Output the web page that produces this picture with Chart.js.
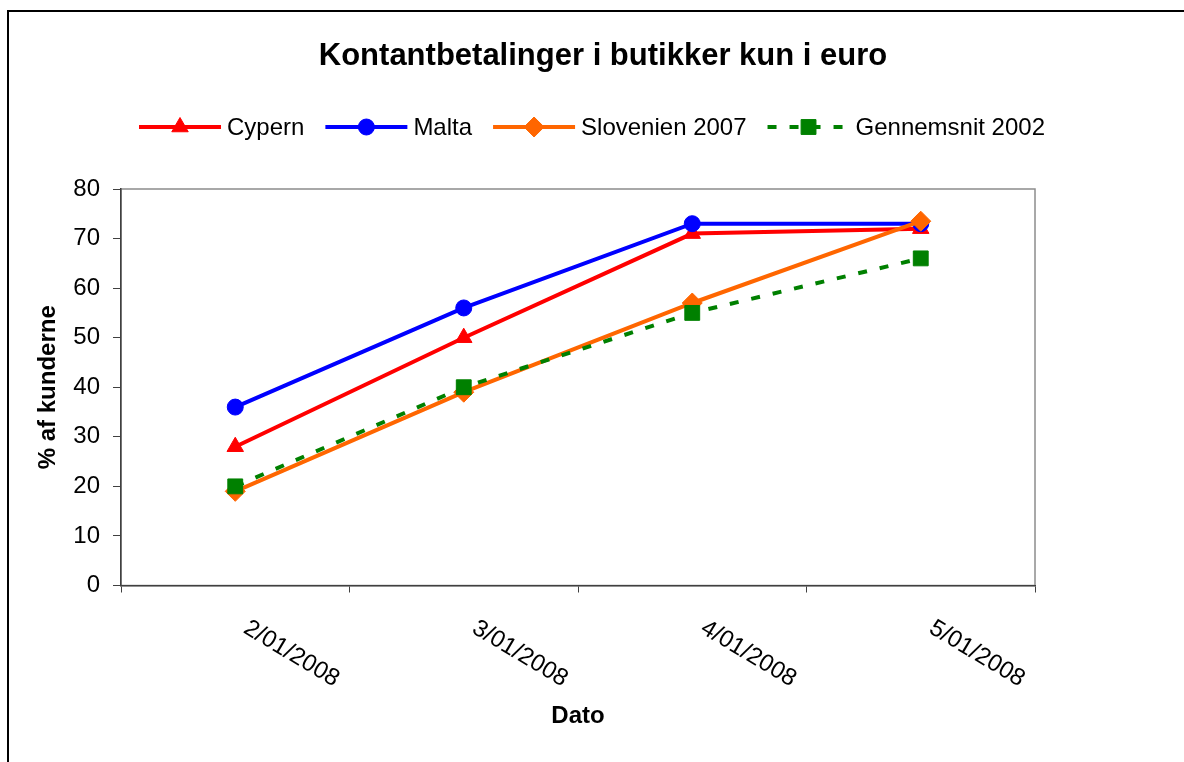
<!DOCTYPE html>
<html>
<head>
<meta charset="utf-8">
<script src="https://cdn.jsdelivr.net/npm/chart.js@4/dist/chart.umd.min.js"></script>
<style>
  html, body { margin: 0; padding: 0; background: #ffffff; }
  #wrap { width: 1184px; height: 762px; }
</style>
</head>
<body>
<div id="wrap"><canvas id="c" width="1184" height="762"></canvas></div>
<script>
const titleText = 'Kontantbetalinger i butikker kun i euro';
const xTitle = 'Dato';
const yTitle = '% af kunderne';
const categories = ['2/01/2008', '3/01/2008', '4/01/2008', '5/01/2008'];
const seriesNames = ['Cypern', 'Malta', 'Slovenien 2007', 'Gennemsnit 2002'];
const cypern = [28, 50, 71, 72];
const malta = [36, 56, 73, 73];
const slovenien = [19, 39, 57, 73.5];
const gennemsnit = [20, 40, 55, 66];
const yMin = 0, yMax = 80, yStep = 10;

const FONT = '"Liberation Sans", Arial, sans-serif';

const datasets = [
  { label: seriesNames[0], data: cypern, borderColor: '#FF0000', backgroundColor: '#FF0000',
    pointStyle: 'triangle', pointRadius: 9.5, order: 4 },
  { label: seriesNames[1], data: malta, borderColor: '#0000FF', backgroundColor: '#0000FF',
    pointStyle: 'circle', pointRadius: 8, order: 3 },
  { label: seriesNames[2], data: slovenien, borderColor: '#FF6600', backgroundColor: '#FF6600',
    pointStyle: 'rectRot', pointRadius: 10, order: 2 },
  { label: seriesNames[3], data: gennemsnit, borderColor: '#008000', backgroundColor: '#008000',
    pointStyle: 'rect', pointRadius: 10.5, borderDash: [9, 13], order: 1 }
].map(d => Object.assign({ borderWidth: 4, pointBorderWidth: 1, pointHoverRadius: d.pointRadius,
  tension: 0, fill: false, pointBackgroundColor: d.backgroundColor, pointBorderColor: d.borderColor }, d));

const decor = {
  id: 'decor',
  beforeDraw(chart) {
    const ctx = chart.ctx, a = chart.chartArea;
    ctx.save();
    ctx.fillStyle = '#ffffff';
    ctx.fillRect(0, 0, chart.width, chart.height);
    // outer frame
    ctx.strokeStyle = '#000000';
    ctx.lineWidth = 2;
    ctx.strokeRect(8, 11, 1250, 900);
    // plot area frame
    ctx.strokeStyle = '#8c8c8c';
    ctx.lineWidth = 1.5;
    ctx.strokeRect(a.left, a.top, a.right - a.left, a.bottom - a.top);
    ctx.restore();
  },
  afterDraw(chart) {
    const ctx = chart.ctx;
    ctx.save();
    // Title
    ctx.fillStyle = '#000000';
    ctx.font = 'bold 31px ' + FONT;
    ctx.textAlign = 'center';
    ctx.textBaseline = 'middle';
    ctx.fillText(titleText, 603, 56);

    // Legend
    ctx.font = '24px ' + FONT;
    const lineLen = 82, textGap = 6, itemGap = 21;
    const ds = chart.data.datasets;
    const widths = ds.map(d => ctx.measureText(d.label).width);
    let total = 0;
    ds.forEach((d, i) => { total += lineLen + textGap + widths[i]; });
    total += itemGap * (ds.length - 1);
    let x = 592 - total / 2;
    const ly = 127;
    ds.forEach((d, i) => {
      ctx.save();
      ctx.strokeStyle = d.borderColor;
      ctx.lineWidth = d.borderWidth;
      ctx.setLineDash(d.borderDash || []);
      ctx.beginPath();
      ctx.moveTo(x, ly);
      ctx.lineTo(x + lineLen, ly);
      ctx.stroke();
      ctx.restore();
      ctx.save();
      ctx.fillStyle = d.backgroundColor;
      ctx.strokeStyle = d.borderColor;
      ctx.lineWidth = 1;
      Chart.helpers.drawPoint(ctx, {
        pointStyle: d.pointStyle, radius: d.pointRadius, rotation: 0, borderWidth: 1
      }, x + lineLen / 2, ly);
      ctx.restore();
      ctx.fillStyle = '#000000';
      ctx.textAlign = 'left';
      ctx.textBaseline = 'middle';
      ctx.fillText(d.label, x + lineLen + textGap, ly + 1);
      x += lineLen + textGap + widths[i] + itemGap;
    });

    // Rotated category labels
    const xs = chart.scales.x;
    ctx.font = '24px ' + FONT;
    ctx.fillStyle = '#000000';
    ctx.textAlign = 'left';
    ctx.textBaseline = 'alphabetic';
    chart.data.labels.forEach((lab, i) => {
      const px = xs.getPixelForValue(i);
      ctx.save();
      ctx.translate(px + 7, 632);
      ctx.rotate(31 * Math.PI / 180);
      ctx.fillText(lab, 0, 0);
      ctx.restore();
    });
    ctx.restore();
  }
};

new Chart(document.getElementById('c'), {
  type: 'line',
  data: { labels: categories, datasets: datasets },
  options: {
    responsive: false,
    animation: false,
    devicePixelRatio: 1,
    layout: { padding: { top: 189, right: 149, left: 0, bottom: 0 } },
    plugins: { legend: { display: false }, title: { display: false }, tooltip: { enabled: false } },
    scales: {
      x: {
        type: 'category',
        offset: true,
        grid: { offset: true, drawOnChartArea: false, drawTicks: true, tickLength: 7, color: '#404040', lineWidth: 1 },
        border: { display: true, color: '#404040', width: 1.5 },
        ticks: { display: false },
        title: { display: true, text: xTitle, color: '#000000',
          font: { family: FONT, size: 24, weight: 'bold' }, padding: { top: 0, bottom: 31 } },
        afterFit(s) { s.height = 176.5; }
      },
      y: {
        min: yMin, max: yMax,
        ticks: { stepSize: yStep, color: '#000000', padding: 13, font: { family: FONT, size: 24 } },
        grid: { drawOnChartArea: false, drawTicks: true, tickLength: 8, color: '#404040', lineWidth: 1 },
        border: { display: true, color: '#404040', width: 1.5 },
        title: { display: true, text: yTitle, color: '#000000',
          font: { family: FONT, size: 24, weight: 'bold' }, padding: { top: 34, bottom: 0 } },
        afterFit(s) { s.width = 121; }
      }
    }
  },
  plugins: [decor]
});
</script>
</body>
</html>
